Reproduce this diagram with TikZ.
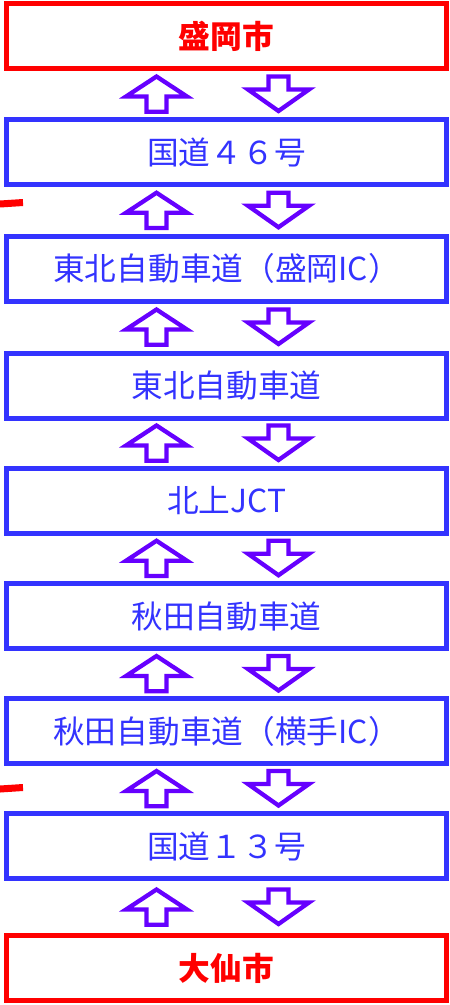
\documentclass[tikz,border=0pt]{standalone}
\usepackage{fontspec}
\setmainfont{Noto Sans CJK JP}
\usetikzlibrary{calc}
\definecolor{boxblue}{HTML}{3333FF}
\definecolor{arrowviolet}{HTML}{6600FF}
\definecolor{cityred}{HTML}{FF0000}
\begin{document}
\begin{tikzpicture}[x=1pt,y=-1pt,
  roadbox/.style={draw=boxblue, line width=5pt, minimum width=440pt, minimum height=65pt,
    inner sep=0pt, text=boxblue, font=\fontsize{31.7}{36}\selectfont},
  citybox/.style={draw=cityred, line width=5pt, minimum width=440pt, minimum height=65pt,
    inner sep=0pt, text=cityred, font=\fontsize{31.7}{36}\selectfont\bfseries},
  blockarrow/.style={draw=arrowviolet, line width=4.3pt, line join=miter, fill=white},
  uparr/.pic={\draw[blockarrow] (0,-17.5) -- (30.5,2.5) -- (10,2.5) -- (10,17.7) -- (-10,17.7) -- (-10,2.5) -- (-30.5,2.5) -- cycle;},
  downarr/.pic={\draw[blockarrow] (-10,-17.5) -- (10,-17.5) -- (10,-4.5) -- (30.5,-4.5) -- (0,17) -- (-30.5,-4.5) -- (-10,-4.5) -- cycle;}
]
\useasboundingbox (0,0) rectangle (450,1005);
\node[citybox] (b1) at (226.5,36) {盛岡市};
\node[roadbox] (b2) at (226.5,152) {国道４６号};
\node[roadbox] (b3) at (226.5,268.5) {東北自動車道（盛岡IC）};
\node[roadbox] (b4) at (226.5,385.5) {東北自動車道};
\node[roadbox] (b5) at (226.5,500.5) {北上JCT};
\node[roadbox] (b6) at (226.5,616) {秋田自動車道};
\node[roadbox] (b7) at (226.5,731) {秋田自動車道（横手IC）};
\node[roadbox] (b8) at (226.5,846) {国道１３号};
\node[citybox] (b9) at (226.5,968) {大仙市};
\foreach \a/\b in {b1/b2,b2/b3,b3/b4,b4/b5,b5/b6,b6/b7,b7/b8,b8/b9}{
  \coordinate (m) at ($(\a.south)!0.5!(\b.north)$);
  \pic at ($(m)+(-70,0)$) {uparr};
  \pic at ($(m)+(52,0)$) {downarr};
}
\draw[cityred, line width=7pt] (0,204) -- (23,202.5);
\draw[cityred, line width=7pt] (0,789) -- (23,787.5);
\end{tikzpicture}
\end{document}
